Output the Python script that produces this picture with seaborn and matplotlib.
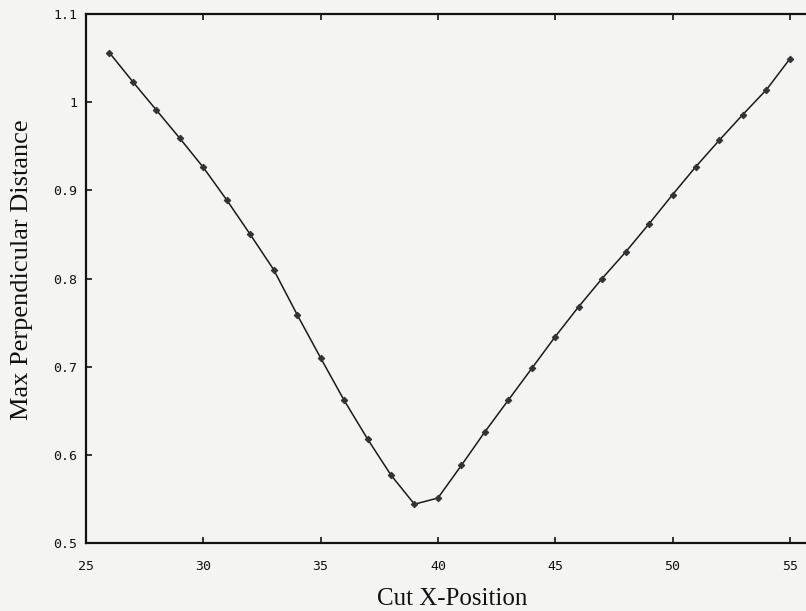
import matplotlib
matplotlib.use("Agg")
import matplotlib.pyplot as plt
import seaborn as sns
import pandas as pd

cut_x = list(range(26, 56))
max_dist = [1.056, 1.023, 0.991, 0.959, 0.926, 0.889, 0.850, 0.810, 0.759, 0.710,
            0.662, 0.618, 0.577, 0.544, 0.551, 0.588, 0.626, 0.662, 0.698, 0.734,
            0.768, 0.800, 0.830, 0.862, 0.895, 0.927, 0.957, 0.986, 1.014, 1.049]

x_ticks = [25, 30, 35, 40, 45, 50, 55]
x_tick_labels = ["25", "30", "35", "40", "45", "50", "55"]
y_ticks = [0.5, 0.6, 0.7, 0.8, 0.9, 1.0, 1.1]
y_tick_labels = ["0.5", "0.6", "0.7", "0.8", "0.9", "1", "1.1"]

x_label = "Cut X-Position"
y_label = "Max Perpendicular Distance"

df = pd.DataFrame({"x": cut_x, "y": max_dist})

sns.set_style("ticks")
plt.rcParams["font.family"] = ["DejaVu Sans Mono", "DejaVu Sans"]

fig = plt.figure(figsize=(8.06, 6.11), dpi=100, facecolor="#f4f4f3")
ax = fig.add_axes([86 / 806, 1 - 543 / 611, 1 - 86 / 806, (543 - 14) / 611])
ax.set_facecolor("#f4f4f3")

sns.lineplot(data=df, x="x", y="y", ax=ax, color="#1a1a1a", linewidth=1.1,
             marker="D", markersize=3.3, markerfacecolor="#333333",
             markeredgecolor="#333333")

ax.set_xlim(25, 25 + (806 - 86) / 23.46)
ax.set_ylim(0.5, 1.1)
ax.set_xticks(x_ticks)
ax.set_xticklabels(x_tick_labels)
ax.set_yticks(y_ticks)
ax.set_yticklabels(y_tick_labels)

ax.tick_params(axis="both", direction="in", length=4, width=1.2, colors="#111111",
               labelsize=9.5, top=True, right=False)
ax.tick_params(axis="x", pad=12.5)
ax.tick_params(axis="y", pad=6.5)

for side in ["left", "bottom", "top"]:
    ax.spines[side].set_linewidth(1.6)
    ax.spines[side].set_color("#111111")
ax.spines["right"].set_visible(False)

ax.set_xlabel(x_label, family="Liberation Serif", fontsize=18, color="#111111",
              va="bottom")
ax.xaxis.set_label_coords((452 - 86) / 720, (543 - 610) / 529)
ax.set_ylabel(y_label, family="Liberation Serif", fontsize=19, color="#111111",
              va="center")
ax.yaxis.set_label_coords((22 - 86) / 720, (543 - 270) / 529)

fig.savefig("out.png", dpi=100, facecolor=fig.get_facecolor())
